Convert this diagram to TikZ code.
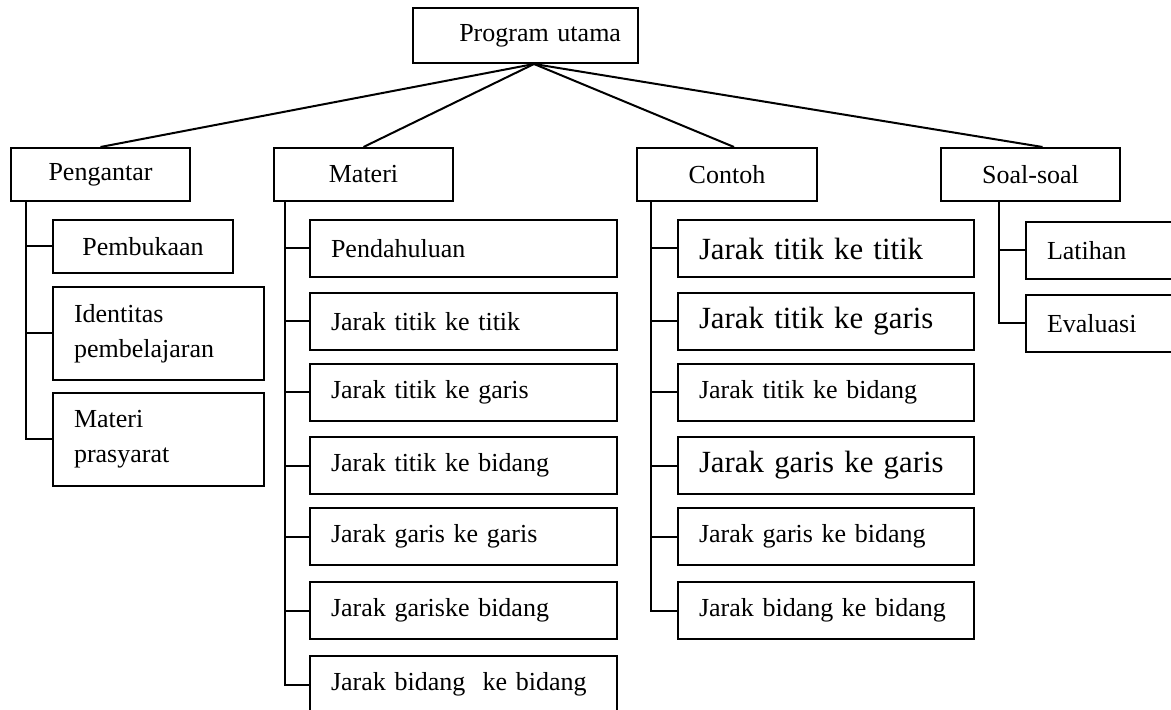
\documentclass[tikz,border=0pt]{standalone}
\usepackage{fontspec}
\setmainfont{Liberation Serif}
\usepackage{tikz}
\usetikzlibrary{calc}
\newcommand{\txtnorm}{\fontsize{13pt}{17.5pt}\selectfont}
\newcommand{\txtbig}{\fontsize{15.4pt}{18.5pt}\selectfont}

\begin{document}
\begin{tikzpicture}[
    x=0.5pt, y=-0.5pt,
    box/.style={rectangle, draw, line width=1pt, inner sep=0pt,
                anchor=north west, font=\txtnorm},
    head/.style={box, minimum width=#1, minimum height=26.5pt, align=center},
    leaf/.style={box, text width=#1, inner xsep=10.5pt,
                 minimum height=28.5pt, align=left},
    tie/.style={line width=1pt},
]
\useasboundingbox (0,0) rectangle (1171,710);
\clip (0,0) rectangle (1171,710);

% root and first level
\node[box, text width=95.5pt, inner xsep=8.5pt, minimum height=27.5pt,
      align=right] (prog) at (412,7) {Program utama};
\node[head=89.5pt] (pengantar) at (10,147)  {Pengantar};
\node[head=89.5pt] (materi)    at (273,147) {Materi};
\node[head=90pt]   (contoh)    at (636,147) {Contoh};
\node[head=89.5pt] (soal)      at (940,147) {Soal-soal};

% Pengantar
\node[head=90pt] (pembukaan) at (52,219) {Pembukaan};
\node[leaf=84.5pt, minimum height=46.5pt] (identitas) at (52,286)
  {Identitas\\pembelajaran};
\node[leaf=84.5pt, minimum height=46.5pt] (prasyarat) at (52,392)
  {Materi\\prasyarat};

% Materi
\node[leaf=132.5pt] (m-pend) at (309,219) {Pendahuluan};
\node[leaf=132.5pt] (m-tt)   at (309,292) {Jarak titik ke titik};
\node[leaf=132.5pt] (m-tg)   at (309,363) {Jarak titik ke garis};
\node[leaf=132.5pt] (m-tb)   at (309,436) {Jarak titik ke bidang};
\node[leaf=132.5pt] (m-gg)   at (309,507) {Jarak garis ke garis};
\node[leaf=132.5pt] (m-gb)   at (309,581) {Jarak gariske bidang};
\node[leaf=132.5pt] (m-bb)   at (309,655) {Jarak bidang\ \ ke bidang};

% Contoh
\node[leaf=127pt, font=\txtbig] (c-tt) at (677,219) {Jarak titik ke titik};
\node[leaf=127pt, font=\txtbig] (c-tg) at (677,292) {Jarak titik ke garis};
\node[leaf=127pt]               (c-tb) at (677,363) {Jarak titik ke bidang};
\node[leaf=127pt, font=\txtbig] (c-gg) at (677,436) {Jarak garis ke garis};
\node[leaf=127pt]               (c-gb) at (677,507) {Jarak garis ke bidang};
\node[leaf=127pt]               (c-bb) at (677,581) {Jarak bidang ke bidang};

% Soal-soal
\node[leaf=79pt] (latihan)  at (1025,221) {Latihan};
\node[leaf=79pt] (evaluasi) at (1025,294) {Evaluasi};

% connectors
\coordinate (hub) at ([xshift=4.25pt]prog.south);
\draw[tie] (hub) -- (pengantar.north);
\draw[tie] (hub) -- (materi.north);
\draw[tie] (hub) -- ([xshift=3.5pt]contoh.north);
\draw[tie] (hub) -- ([xshift=6pt]soal.north);

\coordinate (p-trunk) at ([xshift=8pt]pengantar.south west);
\coordinate (m-trunk) at ([xshift=6pt]materi.south west);
\coordinate (c-trunk) at ([xshift=7.5pt]contoh.south west);
\coordinate (s-trunk) at ([xshift=29.5pt]soal.south west);

\draw[tie] (p-trunk) |- (pembukaan.west) (p-trunk) |- (identitas.west)
           (p-trunk) |- (prasyarat.west);
\draw[tie] (m-trunk) |- (m-pend.west) (m-trunk) |- (m-tt.west)
           (m-trunk) |- (m-tg.west) (m-trunk) |- (m-tb.west)
           (m-trunk) |- (m-gg.west) (m-trunk) |- (m-gb.west)
           (m-trunk) |- (m-bb.west);
\draw[tie] (c-trunk) |- (c-tt.west) (c-trunk) |- (c-tg.west)
           (c-trunk) |- (c-tb.west) (c-trunk) |- (c-gg.west)
           (c-trunk) |- (c-gb.west) (c-trunk) |- (c-bb.west);
\draw[tie] (s-trunk) |- (latihan.west) (s-trunk) |- (evaluasi.west);
\end{tikzpicture}
\end{document}
